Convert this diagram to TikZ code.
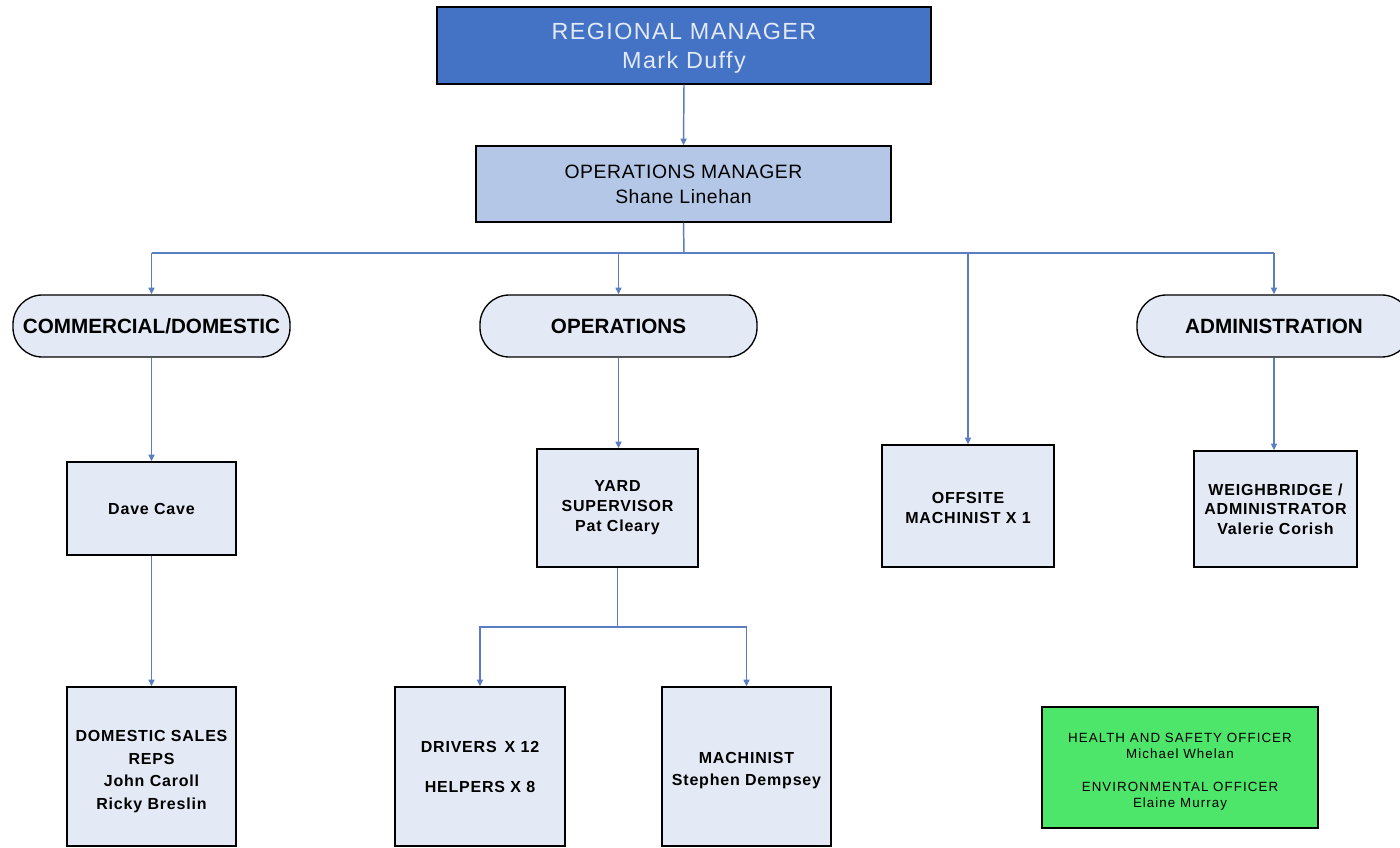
\documentclass[tikz,border=0pt]{standalone}
\usepackage{fontspec}
\setmainfont{Liberation Sans}
\newfontfamily\rmfontA[LetterSpace=6]{Liberation Sans}
\newfontfamily\omfontA[LetterSpace=3]{Liberation Sans}
\newfontfamily\boxfontA[LetterSpace=5]{Liberation Sans}
\newfontfamily\hsfontA[LetterSpace=8]{Liberation Sans}
\usetikzlibrary{arrows.meta}
\definecolor{rmfill}{HTML}{4472C4}
\definecolor{omfill}{HTML}{B4C7E7}
\definecolor{boxfill}{HTML}{E4EAF5}
\definecolor{linecol}{HTML}{5A7EBF}
\definecolor{greenfill}{HTML}{4EE56B}
\definecolor{rmtext}{HTML}{E2EAF7}
\begin{document}
\begin{tikzpicture}[x=0.75pt,y=-0.75pt,
  box/.style={draw=black, line width=1pt, fill=boxfill, inner sep=0pt, align=center,
    font=\boxfontA\fontsize{12}{15}\selectfont\bfseries},
  boxtext/.style={inner sep=0pt, align=center, font=\boxfontA\fontsize{12}{17}\selectfont\bfseries},
  pill/.style={box, rounded corners=22pt, minimum height=46.5pt,
    font=\fontsize{15.5}{18}\selectfont\bfseries},
  conn/.style={draw=linecol, line width=1.1pt},
  arr/.style={conn, -{Triangle[length=5pt,width=4.5pt]}}]
\useasboundingbox (0,0) rectangle (1400,848);
\fill[white] (0,0) rectangle (1400,848);

% top
\node[draw=black, fill=rmfill, line width=1pt, minimum width=370.5pt, minimum height=57.75pt]
  (rm) at (684,45.5) {};
\node[inner sep=0pt, align=center, text=rmtext, font=\rmfontA\fontsize{17.5}{21.75}\selectfont]
  (rmt) at ([yshift=-2.2pt]rm.center) {REGIONAL MANAGER\\Mark Duffy};
\node[draw=black, fill=omfill, line width=1pt, inner sep=0pt, align=center,
  font=\omfontA\fontsize{14.5}{18.75}\selectfont, minimum width=311.25pt, minimum height=57pt]
  (om) at (683.5,184) {OPERATIONS MANAGER\\Shane Linehan};

% pills
\node[pill, minimum width=207.75pt] (cd) at (151.5,326) {COMMERCIAL/DOMESTIC};
\node[pill, minimum width=207.75pt] (ops) at (618.5,326) {OPERATIONS};
\begin{scope}
\clip (0,0) rectangle (1400,848);
\node[pill, minimum width=205.5pt] (adm) at (1274,326) {ADMINISTRATION};
\end{scope}

% second level
\node[box, minimum width=126.75pt, minimum height=69.75pt] (dc) at (151.5,508.5) {Dave Cave};
\node[box, minimum width=120.75pt, minimum height=88.5pt] (yard) at (617.5,508) {YARD\\SUPERVISOR\\Pat Cleary};
\node[box, minimum width=129pt, minimum height=91.5pt] (off) at (968,506) {};
\node[boxtext, font=\boxfontA\fontsize{12}{15}\selectfont\bfseries] (offt) at ([yshift=-1.5pt]off.center) {OFFSITE\\MACHINIST X 1};
\node[box, minimum width=122.25pt, minimum height=87pt, font=\boxfontA\fontsize{12}{14.7}\selectfont\bfseries]
  (wb) at (1275.5,509) {WEIGHBRIDGE /\\ADMINISTRATOR\\Valerie Corish};

% third level
\node[box, minimum width=126.75pt, minimum height=119.25pt] (ds) at (151.5,766.5) {};
\node[boxtext] (dst) at ([yshift=-3.8pt]ds.center) {DOMESTIC SALES\\REPS\\John Caroll\\Ricky Breslin};
\node[box, minimum width=127.5pt, minimum height=119.25pt]
  (drv) at (480,766.5) {DRIVERS \,X 12\\[15pt]HELPERS X 8};
\node[box, minimum width=126.75pt, minimum height=119.25pt] (mach) at (746.5,766.5) {};
\node[boxtext] (macht) at ([yshift=-3pt]mach.center) {MACHINIST\\Stephen Dempsey};

% green box
\node[draw=black, line width=1pt, fill=greenfill, minimum width=207pt, minimum height=90.75pt]
  (hs) at (1180,767.5) {};
\node[inner sep=0pt, align=center, font=\hsfontA\fontsize{10}{12}\selectfont]
  (hst) at ([yshift=-3pt]hs.center)
  {HEALTH AND SAFETY OFFICER\\Michael Whelan\\[13pt]ENVIRONMENTAL OFFICER\\Elaine Murray};

% connectors
\coordinate (bus) at (684,253);
\coordinate (sbus) at (618,627);
\draw[arr] (rm.south) -- (om.north);
\draw[conn] (om.south) -- (bus);
\draw[conn] (cd.north |- bus) -- (adm.north |- bus);
\draw[arr] (cd.north |- bus) -- (cd.north);
\draw[arr] (ops.north |- bus) -- (ops.north);
\draw[arr] (off.north |- bus) -- (off.north);
\draw[arr] (adm.north |- bus) -- (adm.north);
\draw[arr] (cd.south) -- (dc.north);
\draw[arr] (dc.south) -- (ds.north);
\draw[arr] (ops.south) -- (ops.south |- yard.north);
\draw[conn] (yard.south) -- (yard.south |- sbus);
\draw[arr] (yard.south |- sbus) -| (drv.north);
\draw[arr] (yard.south |- sbus) -| (mach.north);
\draw[arr] (adm.south) -- (adm.south |- wb.north);
\end{tikzpicture}
\end{document}
